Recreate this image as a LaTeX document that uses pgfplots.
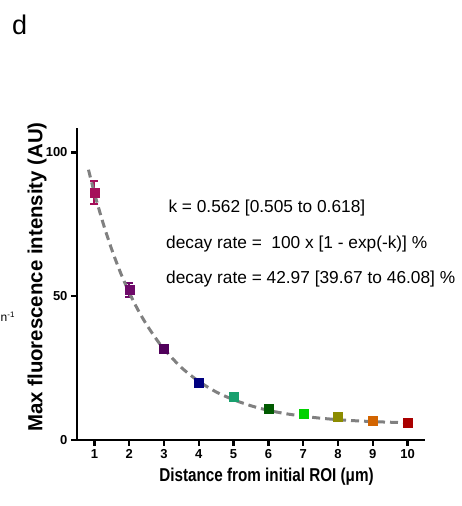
\documentclass[border=0pt]{standalone}
\usepackage{pgfplots}
\pgfplotsset{compat=1.18}
\usepackage{fontspec}
\setmainfont{Liberation Sans}
\definecolor{c1}{RGB}{165,15,90}
\definecolor{c2}{RGB}{110,10,105}
\definecolor{c3}{RGB}{80,0,90}
\definecolor{c4}{RGB}{0,0,128}
\definecolor{c5}{RGB}{25,160,110}
\definecolor{c6}{RGB}{0,90,0}
\definecolor{c7}{RGB}{0,210,0}
\definecolor{c8}{RGB}{140,140,0}
\definecolor{c9}{RGB}{210,100,0}
\definecolor{c10}{RGB}{170,0,0}
\definecolor{fitgray}{RGB}{128,128,128}
\pgfplotsset{pt/.style={only marks, mark=square*, mark size=4.5pt, color=#1,
  mark options={fill=#1, draw=#1, solid},
  error bars/.cd, y dir=both, y explicit,
  error bar style={line width=2pt, color=#1, solid},
  error mark options={rotate=90, mark size=4pt, line width=2pt, color=#1}}}
\begin{document}
\begin{tikzpicture}[x=1pt,y=1pt]
\useasboundingbox (0,0) rectangle (462,506);
\begin{axis}[
  at={(77pt,66pt)}, anchor=south west, scale only axis,
  width=348pt, height=312pt,
  xmin=0.5, xmax=10.5, ymin=0, ymax=108.5,
  axis lines=left, axis line style={-, line width=2.5pt, black},
  xtick={1,2,3,4,5,6,7,8,9,10}, ytick={0,50,100},
  tick align=outside, major tick length=6pt,
  tick style={line width=2.5pt, black},
  /pgf/number format/assume math mode=true,
  ticklabel style={font=\fontsize{13}{15}\selectfont\bfseries},
  clip=false,
]
\addplot[pt=c1] coordinates {(1,85.9) +- (0,4.0)};
\addplot[pt=c2] coordinates {(2,52.2) +- (0,2.3)};
\addplot[pt=c3] coordinates {(3,31.6) +- (0,1.5)};
\addplot[pt=c4] coordinates {(4,20.0) +- (0,0.8)};
\addplot[pt=c5] coordinates {(5,15.0) +- (0,0.6)};
\addplot[pt=c6] coordinates {(6,11.0) +- (0,0.5)};
\addplot[pt=c7] coordinates {(7,9.0) +- (0,0.4)};
\addplot[pt=c8] coordinates {(8,8.0) +- (0,0.4)};
\addplot[pt=c9] coordinates {(9,6.8) +- (0,0.4)};
\addplot[pt=c10] coordinates {(10,6.1) +- (0,0.4)};
\addplot[no marks, color=fitgray, line width=3pt, dash pattern=on 8pt off 5pt, smooth] coordinates {
(0.83,94.0) (1.0,85.9) (1.25,75.4) (1.5,66.2) (1.75,58.2) (2.0,51.3) (2.25,45.3)
(2.5,40.1) (2.75,35.6) (3.0,31.6) (3.5,25.2) (4.0,20.4) (4.5,16.7) (5.0,14.0)
(5.5,11.9) (6.0,10.3) (6.5,9.15) (7.0,8.26) (7.5,7.58) (8.0,7.07) (8.5,6.69)
(9.0,6.40) (9.5,6.18) (10.0,6.01) (10.2,5.98)};
\end{axis}
\node[anchor=base west, inner sep=0pt, font=\fontsize{27}{30}\selectfont] at (12,471) {d};
\node[anchor=base west, inner sep=0pt, font=\fontsize{12}{14}\selectfont] at (0.5,184) {n\textsuperscript{-1}};
\node[rotate=90, inner sep=0pt, font=\fontsize{20.4}{24}\selectfont\bfseries] at (37,229) {Max fluorescence intensity (AU)};
\node[anchor=base, inner sep=0pt, font=\fontsize{18.6}{22}\selectfont\bfseries] at (266.5,24.3) {\scalebox{0.82}[1]{Distance from initial ROI (μm)}};
\begin{scope}[every node/.style={anchor=base west, inner sep=0pt, font=\fontsize{17.3}{20}\selectfont}]
\node at (168.3,293.3) {k = 0.562 [0.505 to 0.618]};
\node at (166,257.7) {decay rate = \ 100 x [1 - exp(-k)] \%};
\node at (166,222.7) {decay rate = 42.97 [39.67 to 46.08] \%};
\end{scope}
\end{tikzpicture}
\end{document}
